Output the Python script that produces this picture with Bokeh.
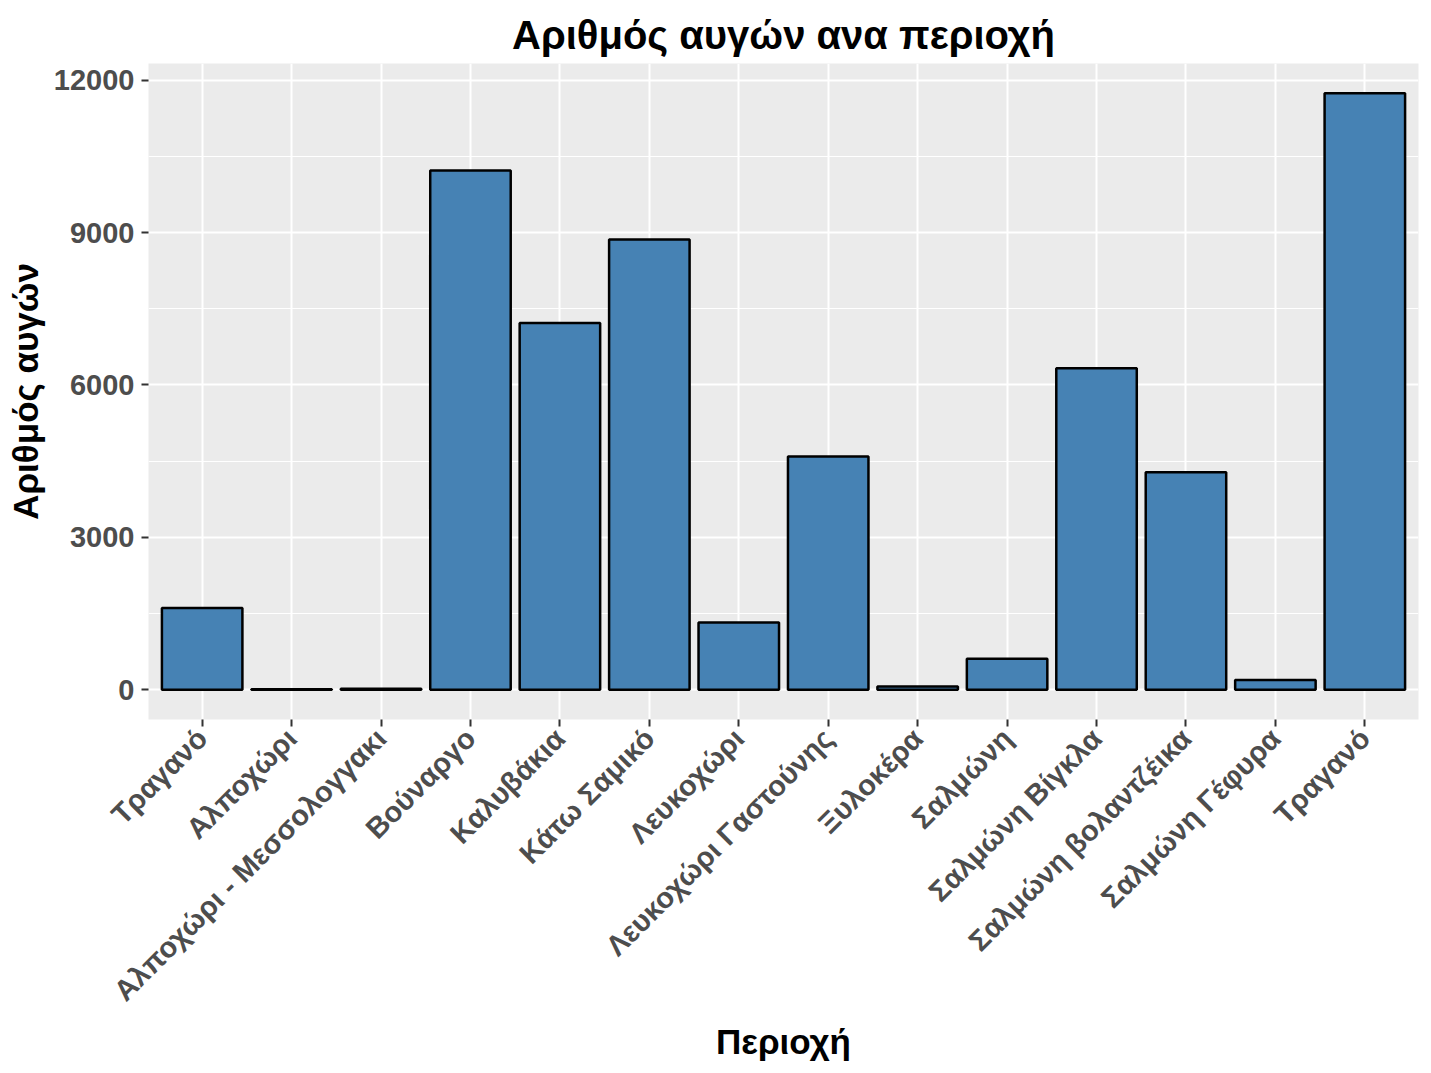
import math
from bokeh.plotting import figure
from bokeh.models import FixedTicker, Range1d, ColumnDataSource
from bokeh.embed import file_html
from bokeh.resources import INLINE

regions = ["Τραγανό", "Αλποχώρι", "Αλποχώρι - Μεσσολογγακι", "Βούναργο", "Καλυβάκια",
           "Κάτω Σαμικό", "Λευκοχώρι", "Λευκοχώρι Γαστούνης", "Ξυλοκέρα", "Σαλμώνη",
           "Σαλμώνη Βίγκλα", "Σαλμώνη βολαντζέικα", "Σαλμώνη Γέφυρα", "Τραγανό"]
eggs = [1610, 10, 20, 10220, 7220, 8860, 1325, 4590, 65, 610, 6330, 4280, 190, 11740]
y_ticks = [0, 3000, 6000, 9000, 12000]
y_minor = [1500, 4500, 7500, 10500]

positions = list(range(1, len(regions) + 1))
src = ColumnDataSource(dict(x=positions, top=eggs))

p = figure(width=1423, height=1073, output_backend="svg", toolbar_location=None,
           x_range=Range1d(0.4, len(regions) + 0.6),
           y_range=Range1d(-0.05 * max(eggs), 1.05 * max(eggs)),
           title="Αριθμός αυγών ανα περιοχή",
           min_border_left=148, min_border_right=5, min_border_top=63, min_border_bottom=354)

p.background_fill_color = "#EBEBEB"
p.border_fill_color = "white"
p.outline_line_color = None

p.title.align = "center"
p.title.text_font = "Liberation Sans"
p.title.text_font_style = "bold"
p.title.text_font_size = "40px"
p.title.text_color = "black"
p.title.offset = 0
p.title.standoff = 14

p.vbar(x="x", top="top", bottom=0, width=0.9, source=src,
       fill_color="#4682B4", line_color="black", line_width=2.5)

p.xaxis.ticker = FixedTicker(ticks=positions)
p.xaxis.major_label_overrides = {i: r for i, r in zip(positions, regions)}
p.xaxis.major_label_orientation = math.pi / 4
p.yaxis.ticker = FixedTicker(ticks=y_ticks, minor_ticks=y_minor)

for ax in (p.xaxis, p.yaxis):
    ax.axis_line_color = None
    ax.major_tick_line_color = "#333333"
    ax.major_tick_line_width = 2
    ax.major_tick_out = 7
    ax.major_tick_in = 0
    ax.minor_tick_line_color = None
    ax.major_label_text_font = "Liberation Sans"
    ax.major_label_text_font_style = "bold"
    ax.major_label_text_font_size = "29px"
    ax.major_label_text_color = "#4D4D4D"
    ax.major_label_standoff = 7
    ax.axis_label_text_font = "Liberation Sans"
    ax.axis_label_text_font_style = "bold"
    ax.axis_label_text_font_size = "35px"
    ax.axis_label_text_color = "black"

p.xaxis.axis_label = "Περιοχή"
p.yaxis.axis_label = "Αριθμός αυγών"
p.xaxis.axis_label_standoff = 1
p.yaxis.axis_label_standoff = 6

p.xgrid.grid_line_color = "white"
p.xgrid.grid_line_width = 2
p.ygrid.grid_line_color = "white"
p.ygrid.grid_line_width = 2
p.ygrid.minor_grid_line_color = "white"
p.ygrid.minor_grid_line_width = 1

open("out.html", "w").write(file_html(p, INLINE))
